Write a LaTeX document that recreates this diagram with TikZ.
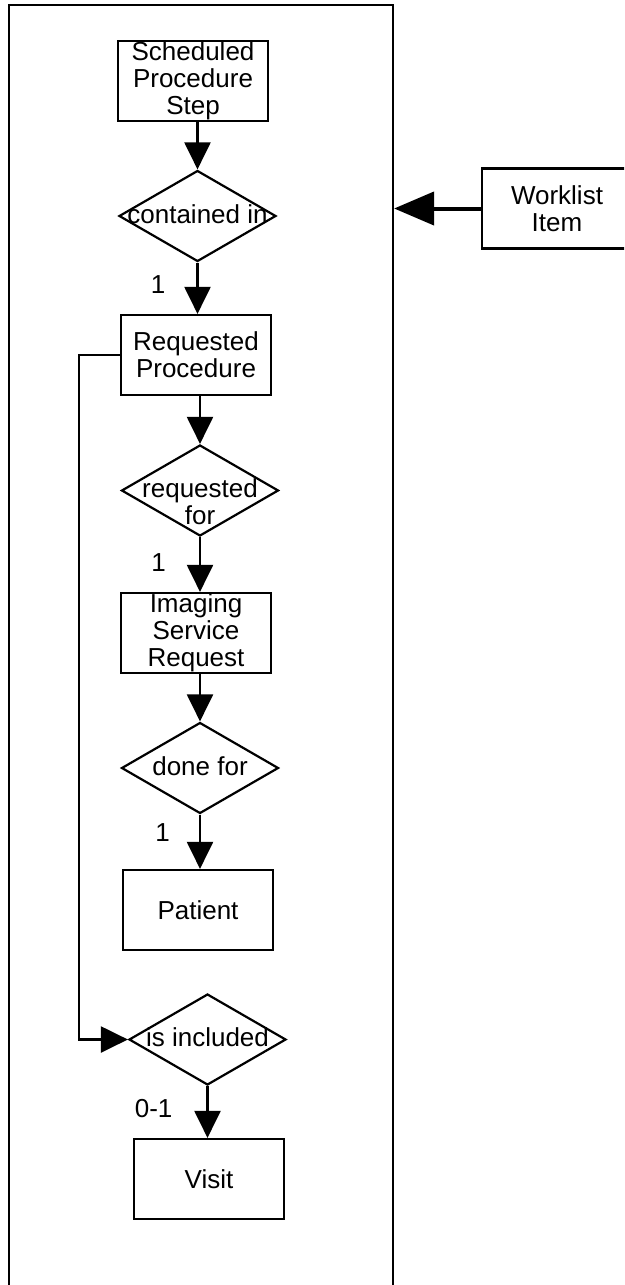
\documentclass[tikz,border=0pt]{standalone}
\usepackage{fontspec}
\setmainfont{Liberation Sans}
\usetikzlibrary{shapes.geometric,arrows.meta}

\newcommand{\reltext}[2][0pt]{\smash{\makebox[0pt]{\raisebox{\dimexpr#1-8pt\relax}{\begin{tabular}{@{}c@{}}#2\end{tabular}}}}}

\tikzset{
    entity/.style={draw, rectangle, line width=2.2pt, inner sep=0pt, minimum width=150pt, minimum height=80pt, align=center},
    relation/.style={draw, diamond, line width=2.2pt, inner sep=0pt, minimum width=157pt, minimum height=91pt},
    rel/.style={line width=2.2pt, -{Triangle[length=27pt,width=26pt]}},
    mult/.style={inner sep=0pt},
}

\begin{document}
\begin{tikzpicture}[x=1pt, y=-1pt, font=\fontsize{26}{27}\selectfont]
        \path[use as bounding box, clip] (0,0) rectangle (624,1285);
        \node[draw, line width=2.2pt, minimum width=384pt, minimum height=1320pt, anchor=north] (frame) at (201,4) {};
        \node[entity] (sps) at (193,81) {Scheduled\\Procedure\\Step};
        \node[relation] (cin) at (197.5,216) {\reltext{contained in}};
        \node[entity] (rp) at (196,355) {Requested\\Procedure};
        \node[relation] (rqf) at (200,490.5) {\reltext[-13pt]{requested\\for}};
        \node[entity] (isr) at (196,633) {Imaging\\Service\\Request};
        \node[relation] (dfor) at (200,768) {\reltext{done for}};
        \node[entity] (pat) at (198,910) {Patient};
        \node[relation] (incl) at (207.5,1039.5) {\reltext{is included}};
        \node[entity] (visit) at (209,1179) {Visit};
        \node[entity] (wl) at (557,208.5) {Worklist\\Item};
        \draw[rel] (sps.south -| cin.north) -- (cin.north);
        \draw[rel] (cin.south) -- node[mult, left=31pt, pos=0.42] {1} (cin.south |- rp.north);
        \draw[rel] (rp.south -| rqf.north) -- (rqf.north);
        \draw[rel] (rqf.south) -- node[mult, left=33pt, pos=0.46] {1} (rqf.south |- isr.north);
        \draw[rel] (isr.south -| dfor.north) -- (dfor.north);
        \draw[rel] (dfor.south) -- node[mult, left=29pt, pos=0.33] {1} (dfor.south |- pat.north);
        \draw[rel] (rp.west) -- ++(-41,0) |- (incl.west);
        \draw[rel] (incl.south) -- node[mult, left=34pt, pos=0.43] {0-1} (incl.south |- visit.north);
        \draw[line width=4pt, -{Triangle[length=40pt,width=33pt]}] (wl.west) -- (wl.west -| frame.east);
    \end{tikzpicture}
\end{document}
